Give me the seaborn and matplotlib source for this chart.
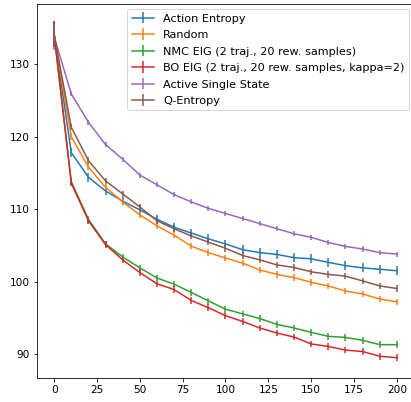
import matplotlib
matplotlib.use("Agg")
import matplotlib.pyplot as plt
import seaborn as sns
import numpy as np

steps = list(range(0, 201, 10))

labels = [
    "Action Entropy",
    "Random",
    "NMC EIG (2 traj., 20 rew. samples)",
    "BO EIG (2 traj., 20 rew. samples, kappa=2)",
    "Active Single State",
    "Q-Entropy",
]

action_entropy = [134.1, 117.8, 114.4, 112.5, 111.1, 109.9, 108.6, 107.5, 106.7, 105.9, 105.2,
                  104.4, 104.0, 103.75, 103.3, 103.15, 102.65, 102.2, 101.9, 101.7, 101.5]
random_q = [134.1, 120.0, 115.8, 113.0, 111.0, 109.2, 107.7, 106.4, 104.9, 104.0, 103.25,
            102.55, 101.6, 101.0, 100.55, 99.9, 99.4, 98.7, 98.3, 97.6, 97.2]
nmc_eig = [134.1, 113.8, 108.6, 105.2, 103.4, 101.9, 100.5, 99.65, 98.5, 97.35, 96.2,
           95.55, 94.9, 94.1, 93.6, 93.0, 92.45, 92.3, 91.9, 91.3, 91.3]
bo_eig = [134.1, 113.6, 108.4, 105.1, 103.0, 101.25, 99.7, 98.9, 97.4, 96.4, 95.3,
          94.5, 93.6, 92.9, 92.35, 91.4, 91.05, 90.55, 90.35, 89.7, 89.5]
single_state = [133.8, 125.9, 122.0, 118.9, 116.9, 114.7, 113.35, 112.0, 111.0, 110.1, 109.4,
                108.7, 108.0, 107.3, 106.6, 106.1, 105.4, 104.85, 104.5, 104.0, 103.8]
q_entropy = [134.1, 121.3, 116.7, 113.9, 112.1, 110.3, 108.4, 107.3, 106.3, 105.45, 104.6,
             103.6, 103.0, 102.3, 101.95, 101.35, 101.0, 100.75, 100.1, 99.4, 99.05]

# standard errors (first query has a big spread)
err_action = [1.8] + [0.6] * 20
err_random = [1.8] + [0.45] * 20
err_nmc = [1.8] + [0.45] * 20
err_bo = [1.8] + [0.45] * 20
err_single = [1.8] + [0.35] * 20
err_q = [1.8] + [0.45] * 20

series = [action_entropy, random_q, nmc_eig, bo_eig, single_state, q_entropy]
errors = [err_action, err_random, err_nmc, err_bo, err_single, err_q]

colores = sns.color_palette("tab10", n_colors=6)

fig = plt.figure(figsize=(411 / 72, 402 / 72), dpi=72)
ax = fig.add_axes([37 / 411, 24 / 402, 377 / 411, 374 / 402])

for vals, err, lab, col in zip(series, errors, labels, colores):
    ax.errorbar(steps, vals, yerr=err, label=lab, color=col, linewidth=1.5)

ax.set_xlim(-10, 210)
ax.set_ylim(86.7, 138.3)
ax.set_xticks([0, 25, 50, 75, 100, 125, 150, 175, 200])
ax.set_yticks([90, 100, 110, 120, 130])
ax.tick_params(labelsize=10.5)
ax.legend(loc="upper right", fontsize=11.2, labelspacing=0.58, borderaxespad=0.45)

fig.savefig("out.png", dpi=72)
